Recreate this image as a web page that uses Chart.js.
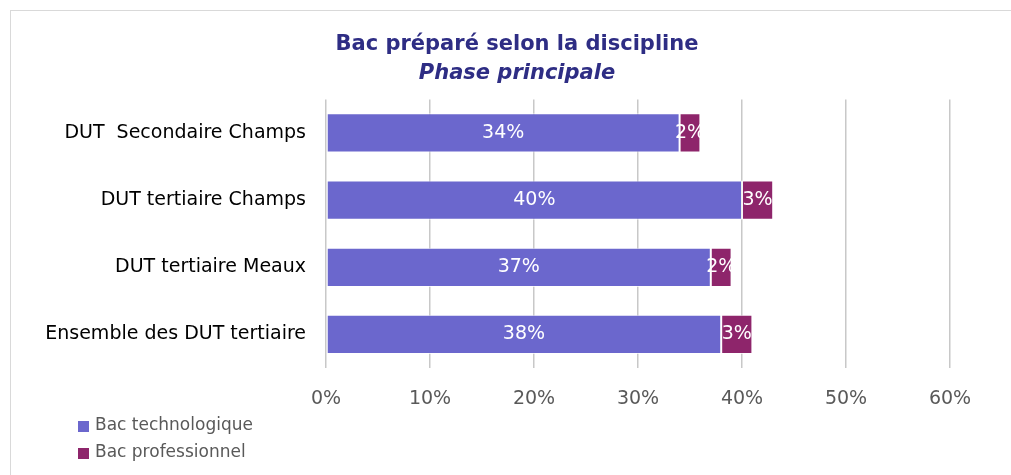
<!DOCTYPE html>
<html><head><meta charset="utf-8">
<script src="https://cdn.jsdelivr.net/npm/chart.js@4"></script>
<style>
html,body{margin:0;padding:0;background:#fff;overflow:hidden;}
#wrap{position:relative;width:1011px;height:475px;}
#frame{position:absolute;left:10px;top:10px;width:1100px;height:600px;border:1px solid #d9d9d9;box-sizing:border-box;}
canvas{position:absolute;left:0;top:0;}
</style></head>
<body><div id="wrap"><div id="frame"></div><canvas id="c" width="1011" height="475"></canvas></div>
<script>
const categories = ["DUT  Secondaire Champs", "DUT tertiaire Champs", "DUT tertiaire Meaux", "Ensemble des DUT tertiaire"];
const seriesNames = ["Bac technologique", "Bac professionnel"];
const bacTechno = [34, 40, 37, 38];
const bacPro = [2, 3, 2, 3];
const xTicks = [0, 10, 20, 30, 40, 50, 60];
const titleText = "Bac préparé selon la discipline";
const subtitleText = "Phase principale";
const colors = ["#6B67CD", "#8E256B"];
const FONT = "'DejaVu Sans', Verdana, sans-serif";

const labelsPlugin = {
  id: 'segLabels',
  afterDatasetsDraw(chart) {
    const ctx = chart.ctx;
    ctx.save();
    ctx.font = "19px " + FONT;
    ctx.fillStyle = "#ffffff";
    ctx.textAlign = "center";
    ctx.textBaseline = "middle";
    chart.data.datasets.forEach((ds, di) => {
      const meta = chart.getDatasetMeta(di);
      meta.data.forEach((bar, i) => {
        const cx = (bar.x + bar.base) / 2;
        ctx.fillText(ds.data[i] + "%", cx, bar.y);
      });
    });
    ctx.restore();
  }
};

const legendPlugin = {
  id: 'customLegend',
  afterDraw(chart) {
    const ctx = chart.ctx;
    ctx.save();
    ctx.font = "17px " + FONT;
    ctx.textBaseline = "middle";
    ctx.textAlign = "left";
    chart.data.datasets.forEach((ds, i) => {
      const y = 426 + i * 27;
      ctx.fillStyle = ds.backgroundColor;
      ctx.fillRect(78, y - 5, 11, 11);
      ctx.fillStyle = "#595959";
      ctx.fillText(ds.label, 95, y);
    });
    ctx.restore();
  }
};

new Chart(document.getElementById('c'), {
  type: 'bar',
  data: {
    labels: categories,
    datasets: [
      { label: seriesNames[0], data: bacTechno, backgroundColor: colors[0], borderColor: "rgba(255,255,255,0.7)", borderWidth: 1, borderSkipped: false, barPercentage: 0.585, categoryPercentage: 1 },
      { label: seriesNames[1], data: bacPro, backgroundColor: colors[1], borderColor: "rgba(255,255,255,0.7)", borderWidth: 1, borderSkipped: false, barPercentage: 0.585, categoryPercentage: 1 }
    ]
  },
  options: {
    indexAxis: 'y',
    responsive: false,
    animation: false,
    layout: { padding: { left: 23, right: 0, top: 0, bottom: 0 } },
    plugins: {
      legend: { display: false },
      tooltip: { enabled: false },
      title: { display: true, text: titleText, color: "#2E2D84", font: { family: FONT, size: 21, weight: 'bold' }, padding: { top: 32, bottom: 4 } },
      subtitle: { display: true, text: subtitleText, color: "#2E2D84", font: { family: FONT, size: 21, weight: 'bold', style: 'italic' }, padding: { top: 0, bottom: 13 } }
    },
    scales: {
      x: {
        stacked: true, min: 0, max: 60,
        afterBuildTicks(axis) { axis.ticks = xTicks.map(v => ({ value: v })); },
        afterFit(axis) { axis.height = 107; },
        grid: { color: "#c8c8c8", lineWidth: 1.5, drawTicks: false },
        border: { display: false },
        ticks: { color: "#595959", font: { family: FONT, size: 19 }, padding: 20, callback: v => v + "%" }
      },
      y: {
        stacked: true,
        afterFit(axis) { axis.width = 303; },
        grid: { display: false, drawTicks: false },
        border: { display: false },
        ticks: { color: "#000000", font: { family: FONT, size: 19 }, padding: 20 }
      },
      y2: {
        type: 'category',
        position: 'right',
        afterFit(axis) { axis.width = 61; },
        grid: { display: false, drawTicks: false },
        border: { display: false },
        ticks: { display: false }
      }
    }
  },
  plugins: [labelsPlugin, legendPlugin]
});
</script></body></html>
